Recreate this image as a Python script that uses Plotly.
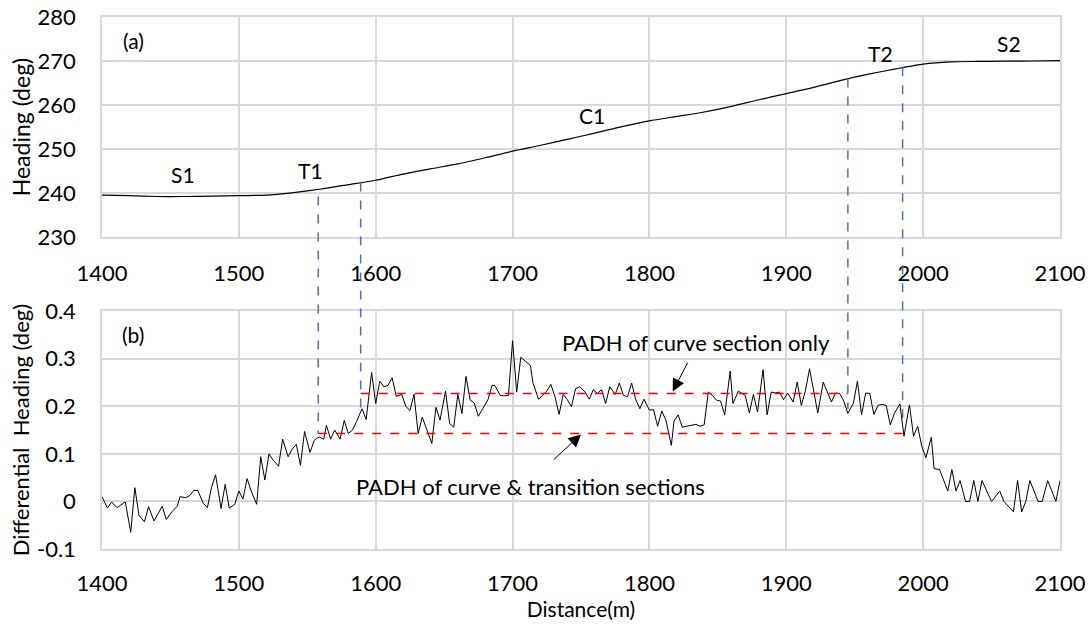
import numpy as np
import plotly.graph_objects as go

# (a) heading along the track
dist_a = [1400, 1420, 1440, 1460, 1480, 1500, 1520, 1540, 1560, 1580, 1600, 1620,
          1640, 1660, 1680, 1700, 1720, 1740, 1760, 1780, 1800, 1820, 1840, 1860,
          1880, 1900, 1920, 1940, 1960, 1980, 2000, 2020, 2040, 2060, 2080, 2100]
heading = [239.5, 239.4, 239.2, 239.2, 239.3, 239.4, 239.5, 240.1, 240.9, 241.9, 242.9, 244.3,
           245.5, 246.6, 248.0, 249.5, 250.8, 252.2, 253.6, 255.1, 256.4, 257.4, 258.4, 259.7,
           261.2, 262.6, 264.0, 265.6, 267.0, 268.2, 269.3, 269.8, 269.9, 269.95, 270.0, 270.1]

# (b) differential heading
dist_b = [1400, 1404, 1407, 1411, 1417, 1421, 1424, 1427, 1431, 1434, 1438, 1444, 1447, 1451,
          1455, 1457, 1461, 1464, 1467, 1470, 1474, 1477, 1480, 1483, 1487, 1490, 1493, 1497,
          1500, 1503, 1506, 1509, 1513, 1516, 1519, 1522, 1525, 1529, 1532, 1536, 1539, 1542,
          1545, 1548, 1552, 1555, 1557, 1559, 1562, 1564, 1567, 1570, 1574, 1577, 1580, 1583,
          1586, 1590, 1593, 1597, 1600, 1603, 1606, 1609, 1612, 1615, 1619, 1622, 1625, 1628,
          1631, 1634, 1637, 1641, 1644, 1647, 1651, 1654, 1657, 1660, 1663, 1666, 1669, 1672,
          1675, 1679, 1682, 1685, 1687, 1691, 1694, 1697, 1700, 1703, 1706, 1713, 1715, 1719,
          1722, 1725, 1728, 1731, 1734, 1737, 1740, 1743, 1746, 1749, 1753, 1756, 1759, 1762,
          1765, 1768, 1771, 1775, 1778, 1781, 1784, 1787, 1790, 1793, 1796, 1800, 1803, 1806,
          1809, 1812, 1816, 1818, 1821, 1824, 1827, 1831, 1834, 1837, 1840, 1843, 1846, 1849,
          1852, 1855, 1859, 1861, 1865, 1867, 1870, 1873, 1876, 1879, 1883, 1886, 1889, 1892,
          1895, 1898, 1901, 1905, 1908, 1911, 1914, 1917, 1920, 1923, 1927, 1930, 1933, 1936,
          1939, 1942, 1945, 1949, 1952, 1955, 1958, 1961, 1964, 1967, 1970, 1973, 1976, 1979,
          1983, 1986, 1990, 1993, 1996, 1999, 2002, 2006, 2008, 2012, 2015, 2018, 2021, 2024,
          2027, 2031, 2034, 2037, 2040, 2043, 2050, 2056, 2059, 2066, 2069, 2072, 2075, 2078,
          2084, 2087, 2091, 2097, 2100]
diff_heading = [0.010, -0.014, -0.001, -0.013, -0.001, -0.065, 0.029, -0.029, -0.043, -0.011,
                -0.041, -0.010, -0.038, -0.022, -0.010, 0.010, 0.008, 0.012, 0.023, 0.023,
                -0.004, -0.013, 0.029, 0.056, -0.015, 0.036, -0.014, -0.006, 0.022, 0.005,
                0.048, 0.022, -0.006, 0.094, 0.045, 0.100, 0.087, 0.074, 0.131, 0.094,
                0.110, 0.120, 0.076, 0.147, 0.103, 0.128, 0.133, 0.135, 0.131, 0.160,
                0.131, 0.150, 0.131, 0.170, 0.143, 0.150, 0.168, 0.195, 0.172, 0.271,
                0.206, 0.253, 0.241, 0.244, 0.260, 0.221, 0.225, 0.200, 0.191, 0.225,
                0.143, 0.177, 0.154, 0.122, 0.198, 0.171, 0.232, 0.164, 0.156, 0.225,
                0.185, 0.263, 0.213, 0.207, 0.179, 0.199, 0.214, 0.244, 0.244, 0.223,
                0.222, 0.223, 0.338, 0.230, 0.303, 0.286, 0.248, 0.215, 0.223, 0.232,
                0.246, 0.220, 0.183, 0.225, 0.214, 0.199, 0.237, 0.241, 0.230, 0.215,
                0.235, 0.227, 0.235, 0.206, 0.241, 0.225, 0.249, 0.223, 0.220, 0.249,
                0.214, 0.195, 0.215, 0.192, 0.193, 0.158, 0.190, 0.171, 0.118, 0.169,
                0.182, 0.156, 0.158, 0.161, 0.162, 0.158, 0.161, 0.230, 0.223, 0.213,
                0.211, 0.182, 0.274, 0.206, 0.232, 0.228, 0.223, 0.186, 0.225, 0.188,
                0.277, 0.182, 0.230, 0.228, 0.230, 0.214, 0.228, 0.209, 0.251, 0.202,
                0.233, 0.279, 0.233, 0.186, 0.251, 0.228, 0.209, 0.228, 0.227, 0.211,
                0.185, 0.206, 0.253, 0.182, 0.228, 0.227, 0.183, 0.202, 0.204, 0.202,
                0.161, 0.185, 0.205, 0.137, 0.203, 0.137, 0.158, 0.116, 0.092, 0.135,
                0.069, 0.067, 0.045, 0.022, 0.067, 0.022, 0.044, 0.000, 0.000, 0.044,
                0.000, 0.044, 0.000, 0.022, 0.000, -0.022, 0.044, -0.022, 0.000, 0.044,
                0.000, 0.000, 0.044, 0.000, 0.044]

# section boundaries (T1 start, C1 start, C1 end, T2 end)
bounds = [1558, 1589, 1945, 1985]
bound_top = [239.2, 242.4, 266.0, 268.6]
bound_bottom = [0.143, 0.195, 0.195, 0.155]

padh_curve = 0.227        # curve section only (C1)
padh_all = 0.143          # curve + transitions

x_ticks = [1400, 1500, 1600, 1700, 1800, 1900, 2000, 2100]
y1_ticks = [230, 240, 250, 260, 270, 280]
y2_ticks = [-0.1, 0, 0.1, 0.2, 0.3, 0.4]
y2_labels = ["-0.1", "0", "0.1", "0.2", "0.3", "0.4"]

FONT = "Lato"
GRID = "#d9d9d9"
x_range = [1400, 2100]
y1_range = [230, 280]
y2_range = [-0.1, 0.4]
dom1 = [0.5865, 1.0]
dom2 = [0.0, 0.447]


def to_paper(v, rng, dom):
    return dom[0] + (v - rng[0]) / (rng[1] - rng[0]) * (dom[1] - dom[0])


fig = go.Figure()
fig.add_trace(go.Scatter(x=dist_a, y=heading, mode="lines",
                         line=dict(color="black", width=1.2, shape="spline", smoothing=0.6),
                         xaxis="x", yaxis="y"))
fig.add_trace(go.Scatter(x=dist_b, y=diff_heading, mode="lines",
                         line=dict(color="black", width=1), xaxis="x2", yaxis="y2"))

# blue dashed verticals linking the two panels
for b, top, bot in zip(bounds, bound_top, bound_bottom):
    fig.add_shape(type="line", xref="x", yref="paper", x0=b, x1=b,
                  y0=to_paper(top, y1_range, dom1), y1=to_paper(bot, y2_range, dom2),
                  line=dict(color="#4472C4", width=1.5, dash="dash"))

# red PADH levels
fig.add_shape(type="line", xref="x2", yref="y2", x0=bounds[1], x1=bounds[2],
              y0=padh_curve, y1=padh_curve, line=dict(color="#FF0000", width=1.5, dash="dash"))
fig.add_shape(type="line", xref="x2", yref="y2", x0=bounds[0], x1=bounds[3],
              y0=padh_all, y1=padh_all, line=dict(color="#FF0000", width=1.5, dash="dash"))

labels_a = [("(a)", 1423, 274.7), ("S1", 1459, 244.1), ("T1", 1552, 245.2),
            ("C1", 1758, 257.5), ("T2", 1969, 271.7), ("S2", 2063, 274.0)]
for t, x, y in labels_a:
    fig.add_annotation(text=t, x=x, y=y, xref="x", yref="y", showarrow=False,
                       font=dict(family=FONT, size=21, color="black"))

fig.add_annotation(text="(b)", x=1423, y=0.351, xref="x2", yref="y2", showarrow=False,
                   font=dict(family=FONT, size=21, color="black"))
fig.add_annotation(text="PADH of curve section only", x=1834, y=0.334, xref="x2", yref="y2",
                   showarrow=False, font=dict(family=FONT, size=22, color="black"))
fig.add_annotation(text="PADH of curve &amp; transition sections", x=1713, y=0.032,
                   xref="x2", yref="y2", showarrow=False,
                   font=dict(family=FONT, size=22, color="black"))

# arrows
fig.add_annotation(text="", x=1817, y=padh_curve + 0.004, ax=1828.5, ay=0.295,
                   xref="x2", yref="y2", axref="x2", ayref="y2", showarrow=True,
                   arrowhead=2, arrowsize=2.5, arrowwidth=1, arrowcolor="black")
fig.add_annotation(text="", x=1750, y=padh_all - 0.002, ax=1729, ay=0.085,
                   xref="x2", yref="y2", axref="x2", ayref="y2", showarrow=True,
                   arrowhead=2, arrowsize=2.5, arrowwidth=1, arrowcolor="black")

axis_common = dict(showgrid=True, gridcolor=GRID, gridwidth=1.5, showline=True,
                   linecolor=GRID, linewidth=1.5, mirror=True, zeroline=False,
                   automargin=False, ticks="", ticklabeloverflow="allow",
                   tickfont=dict(family=FONT, size=22, color="black"))

fig.update_layout(
    width=1091, height=628,
    paper_bgcolor="white", plot_bgcolor="white",
    showlegend=False,
    margin=dict(l=102, r=31, t=17, b=79),
    xaxis=dict(domain=[0, 1], range=x_range, tickvals=x_ticks, anchor="y",
               ticklabelstandoff=16, **axis_common),
    yaxis=dict(domain=dom1, range=y1_range, tickvals=y1_ticks, anchor="x",
               ticklabelstandoff=20,
               title=dict(text="Heading (deg)", font=dict(family=FONT, size=23, color="black"),
                          standoff=1),
               **axis_common),
    xaxis2=dict(domain=[0, 1], range=x_range, tickvals=x_ticks, anchor="y2",
                ticklabelstandoff=14,
                title=dict(text="Distance(m)", font=dict(family=FONT, size=21, color="black"),
                           standoff=6),
                **axis_common),
    yaxis2=dict(domain=dom2, range=y2_range, tickvals=y2_ticks, ticktext=y2_labels,
                anchor="x2", ticklabelstandoff=20,
                title=dict(text="Differential&nbsp;&nbsp;Heading (deg)",
                           font=dict(family=FONT, size=22, color="black"), standoff=1),
                **axis_common),
)

# drop the page's default body margin so the figure sits at the window corner
fig.write_html("out.html", config={"displayModeBar": False},
               post_script="document.body.style.margin = '0';")
